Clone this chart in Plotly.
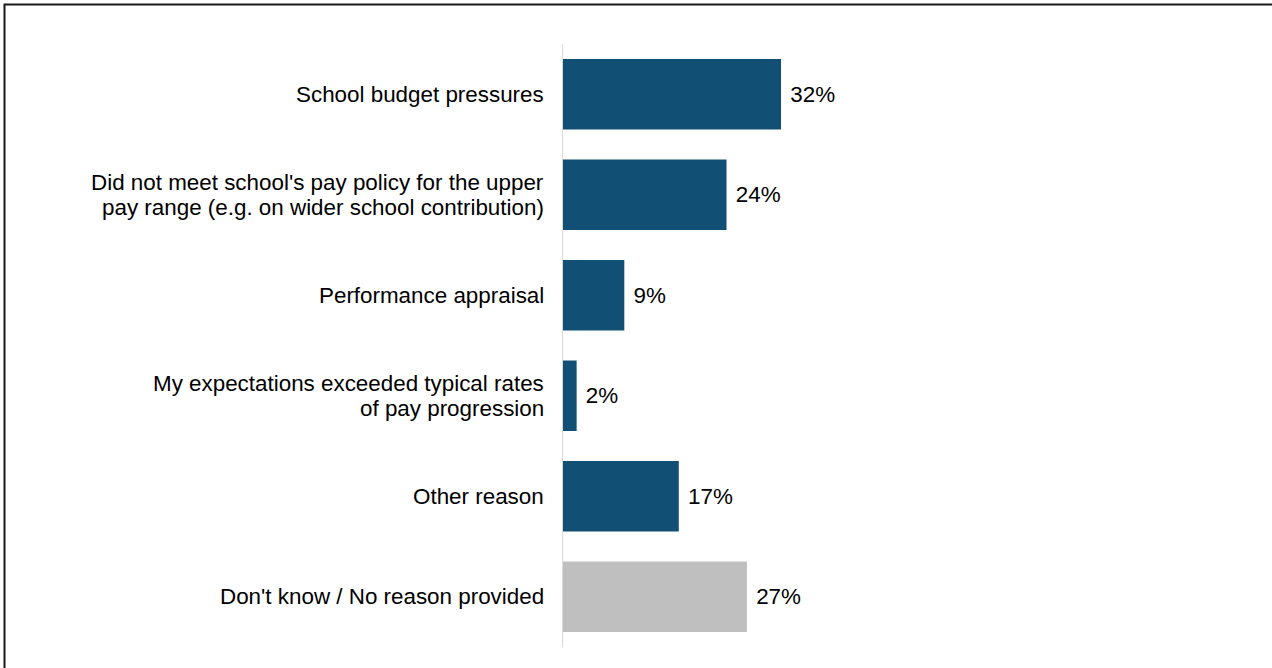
import plotly.graph_objects as go

categories = [
    "School budget pressures",
    "Did not meet school's pay policy for the upper<br>pay range (e.g. on wider school contribution)",
    "Performance appraisal",
    "My expectations exceeded typical rates<br>of pay progression",
    "Other reason",
    "Don't know / No reason provided",
]
values = [32, 24, 9, 2, 17, 27]
colors = ["#124F74", "#124F74", "#124F74", "#124F74", "#124F74", "#BFBFBF"]

W, H = 1272, 668
L, R, T, B = 563, 9, 44, 21
pw, ph = W - L - R, H - T - B
xmax = pw / (218 / 32)
FS = 22.4
FONT = "Liberation Sans, Arial"
LINE = 25

fig = go.Figure(go.Bar(
    y=categories, x=values, orientation="h",
    marker=dict(color=colors, line=dict(width=0)),
    text=[f" {v}%" for v in values], textposition="outside",
    textfont=dict(family=FONT, size=FS, color="#000000"),
    cliponaxis=False, width=0.7, hoverinfo="skip",
))

annotations = []
for cat in categories:
    lines = cat.split("<br>")
    n = len(lines)
    for i, ln in enumerate(lines):
        annotations.append(dict(
            x=0, y=cat, xref="x", yref="y", text=ln, showarrow=False,
            xanchor="right", yanchor="middle", xshift=-17,
            yshift=((n - 1) / 2 - i) * LINE,
            font=dict(family=FONT, size=FS, color="#000000"),
        ))

fig.update_layout(
    width=W, height=H,
    margin=dict(l=L, r=R, t=T, b=B, pad=0),
    plot_bgcolor="white", paper_bgcolor="white",
    showlegend=False,
    font=dict(family=FONT, size=FS, color="#000000"),
    xaxis=dict(range=[0, xmax], visible=False),
    yaxis=dict(autorange="reversed", showgrid=False, showline=True,
               linecolor="#D9D9D9", linewidth=1, ticks="",
               showticklabels=False),
    annotations=annotations,
    shapes=[dict(type="rect", xref="paper", yref="paper",
                 x0=(4.5 - L) / pw, x1=2, y0=-0.5, y1=(H - B - 4.5) / ph,
                 line=dict(color="#1A1A1A", width=2), fillcolor="rgba(0,0,0,0)",
                 layer="below")],
)

fig.write_html("out.html", config={"displayModeBar": False},
               post_script="document.body.style.margin='0';")
